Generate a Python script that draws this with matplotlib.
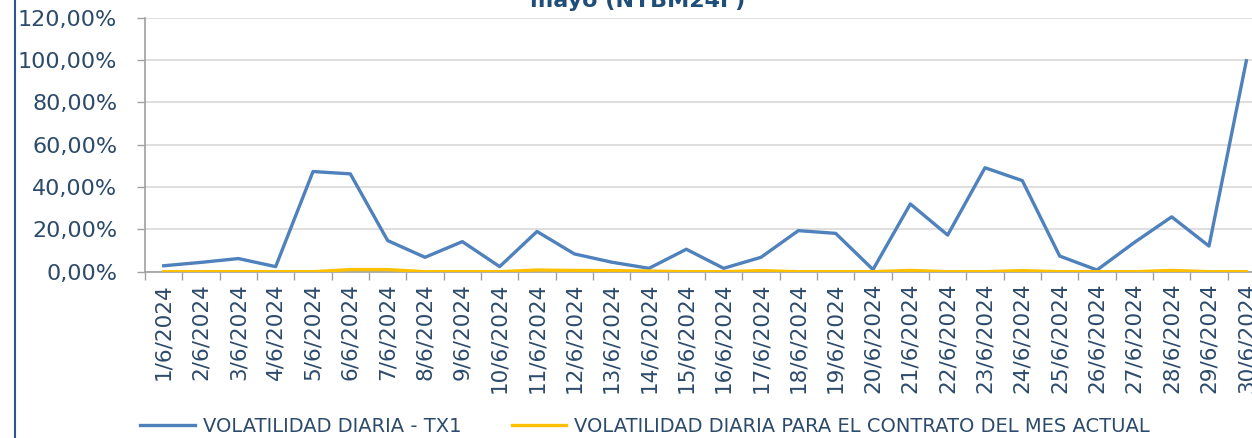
import matplotlib
matplotlib.use("Agg")
import matplotlib.pyplot as plt
from matplotlib.ticker import FuncFormatter, FixedLocator
from matplotlib.lines import Line2D

dates = [f"{d}/6/2024" for d in range(1, 31)]
vol_tx1 = [2.8, 4.4, 6.2, 2.4, 47.3, 46.2, 14.7, 6.8, 14.2, 2.4,
           19.0, 8.4, 4.5, 1.6, 10.6, 1.6, 6.8, 19.4, 18.1, 1.0,
           32.0, 17.3, 49.1, 43.0, 7.4, 0.8, 13.8, 25.9, 12.1, 99.6]
vol_mes = [0.0, 0.0, 0.0, 0.0, 0.0, 1.0, 1.0, 0.0, 0.0, 0.0,
           0.8, 0.6, 0.5, 0.3, 0.0, 0.0, 0.5, 0.0, 0.0, 0.0,
           0.6, 0.0, 0.0, 0.5, 0.0, 0.0, 0.0, 0.6, 0.0, 0.0]
yticks = [0, 20, 40, 60, 80, 100, 120]
title_text = "mayo (NYBM24F)"
legend_labels = ["VOLATILIDAD DIARIA - TX1",
                 "VOLATILIDAD DIARIA PARA EL CONTRATO DEL MES ACTUAL"]

label_color = "#2C4A6B"
blue = "#4F81BD"
yellow = "#FFC000"
axis_gray = "#A0A0A0"
grid_gray = "#D9D9D9"

W, H = 1252, 438
fig = plt.figure(figsize=(W / 100, H / 100), dpi=100)
ax = fig.add_axes([145 / W, (H - 271.7) / H, 1120 / W, 254.1 / H])

x = list(range(len(dates)))
ax.plot(x, vol_tx1, color=blue, lw=2.4, zorder=3)
ax.plot(x, vol_mes, color=yellow, lw=2.4, zorder=4)

ax.set_xlim(-0.5, len(dates) - 0.5)
ax.set_ylim(0, 120)

ax.yaxis.set_major_locator(FixedLocator(yticks))
ax.yaxis.set_major_formatter(FuncFormatter(lambda v, p: f"{v:.2f}".replace(".", ",") + "%"))
ax.grid(axis="y", color=grid_gray, lw=1.2, zorder=0)
ax.set_axisbelow(True)

# category boundaries as major ticks, labels at centers as minor
ax.xaxis.set_major_locator(FixedLocator([i - 0.5 for i in range(len(dates) + 1)]))
ax.xaxis.set_major_formatter(FuncFormatter(lambda v, p: ""))
ax.xaxis.set_minor_locator(FixedLocator(x))
ax.set_xticklabels(dates, minor=True)
ax.tick_params(axis="x", which="major", length=6, width=1, color=axis_gray)
ax.tick_params(axis="x", which="minor", length=0, pad=8, labelsize=15.5,
               labelcolor=label_color, labelrotation=90)
ax.tick_params(axis="y", which="major", length=6, width=1, color=axis_gray,
               pad=14, labelsize=16, labelcolor=label_color)

for s in ["top", "right"]:
    ax.spines[s].set_visible(False)
for s in ["left", "bottom"]:
    ax.spines[s].set_color(axis_gray)
    ax.spines[s].set_linewidth(1.2)

# chart border (left side visible)
fig.add_artist(Line2D([14.5 / W, 14.5 / W], [0, 1], transform=fig.transFigure,
                      color="#2F5597", lw=1.5))

fig.text(638 / W, (H - 7) / H, title_text, ha="center", va="baseline",
         fontsize=16, fontweight="bold", color="#1F4E79")

handles = [Line2D([], [], color=blue, lw=2.4), Line2D([], [], color=yellow, lw=2.4)]
fig.legend(handles, legend_labels, loc="center", ncol=2,
           bbox_to_anchor=(645 / W, (H - 426) / H), frameon=False,
           fontsize=14, labelcolor=label_color, handlelength=2.8,
           handletextpad=0.4, columnspacing=2.6)

fig.savefig("out.png", dpi=100)
